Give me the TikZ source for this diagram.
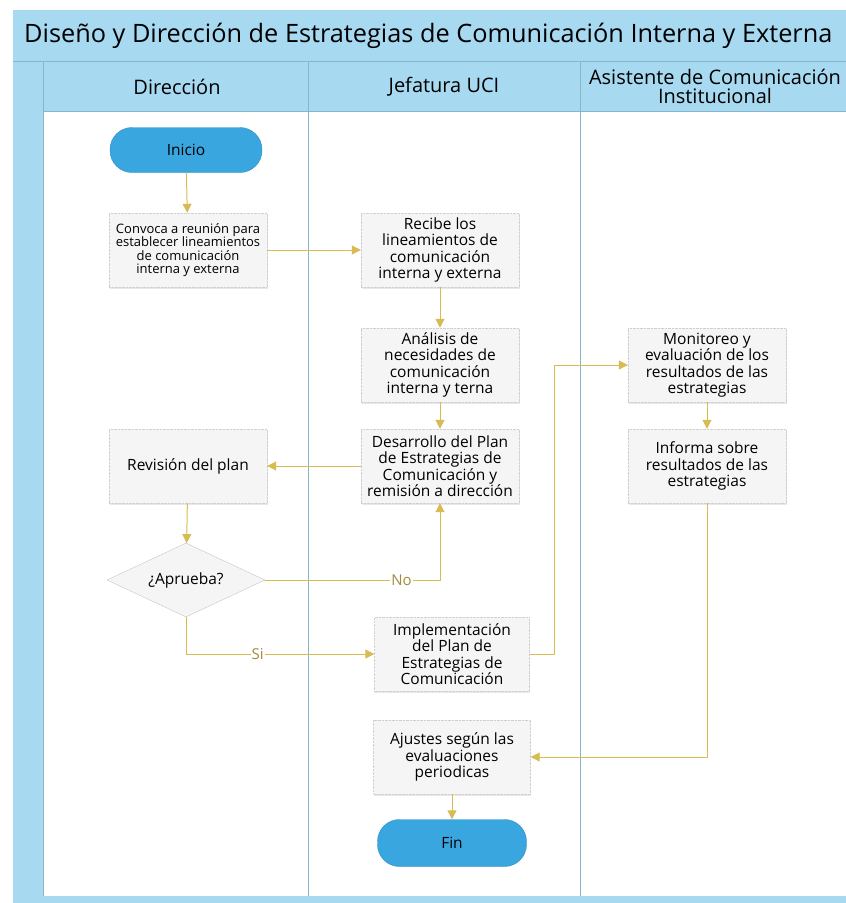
\documentclass[tikz,border=0pt]{standalone}
\usepackage{fontspec}
\setmainfont{Open Sans}
\usepackage{xcolor}
\usepackage{tikz}
\usetikzlibrary{arrows.meta,positioning,shapes.geometric,shadows}
\definecolor{lanebg}{HTML}{A7D9F1}
\definecolor{laneline}{HTML}{86B6C8}
\definecolor{flow}{HTML}{D6BC52}
\definecolor{termfill}{HTML}{3AA6E0}
\definecolor{boxfill}{HTML}{F5F5F5}
\definecolor{boxline}{HTML}{CFCFCF}

\begin{document}
\begin{tikzpicture}[x=1pt, y=-1pt,
    proc/.style={draw=boxline, densely dotted, fill=boxfill, minimum width=158pt, minimum height=74pt, inner sep=2pt, align=center, font=\fontsize{15.5}{16.5}\selectfont, drop shadow={opacity=0.18, shadow xshift=0.5pt, shadow yshift=-2pt}},
    term/.style={draw=termfill!85!black, fill=termfill, rounded corners=22pt, minimum width=152pt, minimum height=45pt, font=\fontsize{15.5}{18}\selectfont},
    dec/.style={diamond, aspect=2.1, draw=gray!45, fill=boxfill, minimum width=158pt, minimum height=74pt, inner sep=0pt, font=\fontsize{15.5}{18}\selectfont},
    hdr/.style={align=center, font=\fontsize{20}{19}\selectfont},
    arr/.style={-{Triangle[length=9pt,width=9pt]}, draw=flow, line width=1pt},
    lbl/.style={fill=white, inner sep=1pt, text=flow!75!black, font=\fontsize{15}{17}\selectfont},
]
    \useasboundingbox (0,0) rectangle (846,903);

    % swimlane frame
    \fill[lanebg] (13,10) rectangle (850,111);
    \fill[lanebg] (13,111) rectangle (43,903);
    \fill[lanebg] (13,896) rectangle (850,903);
    \draw[laneline] (13,61) -- (850,61);
    \draw[laneline] (43,111) -- (850,111);
    \draw[laneline] (43,61) -- (43,896);
    \draw[laneline] (308,61) -- (308,896);
    \draw[laneline] (580,61) -- (580,896);

    \node[anchor=west, inner sep=0pt, font=\fontsize{25.3}{28}\selectfont] (titulo) at (24,36) {Diseño y Dirección de Estrategias de Comunicación Interna y Externa};
    \node[hdr] (hdir) at (177,87) {Dirección};
    \node[hdr] (hjef) at (444,87) {Jefatura UCI};
    \node[hdr] (hasi) at (715,86) {Asistente de Comunicación\\Institucional};

    % Dirección
    \node[term] (ini) at (186,150) {Inicio};
    \node[proc, font=\fontsize{13}{13.5}\selectfont] (conv) at (188,250) {Convoca a reunión para\\establecer lineamientos\\de comunicación\\interna y externa};
    \node[proc] (rev) at (188,466) {Revisión del plan};
    \node[dec] (apr) at (186,580) {¿Aprueba?};

    % Jefatura UCI
    \node[proc] (rec) at (440,250) {Recibe los\\lineamientos de\\comunicación\\interna y externa};
    \node[proc] (ana) at (440,365) {Análisis de\\necesidades de\\comunicación\\interna y terna};
    \node[proc] (des) at (440,466) {Desarrollo del Plan\\de Estrategias de\\Comunicación y\\remisión a dirección};
    \node[proc, minimum width=155pt] (imp) at (452,654) {Implementación\\del Plan de\\Estrategias de\\Comunicación};
    \node[proc, minimum width=157pt] (aju) at (452,757) {Ajustes según las\\evaluaciones\\periodicas};
    \node[term, minimum width=149pt, minimum height=47pt] (fin) at (452,843) {Fin};

    % Asistente
    \node[proc] (mon) at (707,365) {Monitoreo y\\evaluación de los\\resultados de las\\estrategias};
    \node[proc] (inf) at (707,466) {Informa sobre\\resultados de las\\estrategias};

    \draw[arr] (ini) -- (conv);
    \draw[arr] (conv) -- (rec);
    \draw[arr] (rec) -- (ana);
    \draw[arr] (ana) -- (des);
    \draw[arr] (des) -- (rev);
    \draw[arr] (rev) -- (apr);
    \draw[arr] (apr.east) -| node[lbl, pos=0.39] {No} (des.south);
    \draw[arr] (apr.south) |- node[lbl, pos=0.69] {Si} (imp.west);
    \draw[arr] (imp.east) -- ++(25,0) |- (mon.west);
    \draw[arr] (mon) -- (inf);
    \draw[arr] (inf.south) |- (aju.east);
    \draw[arr] (aju) -- (fin);
\end{tikzpicture}
\end{document}
